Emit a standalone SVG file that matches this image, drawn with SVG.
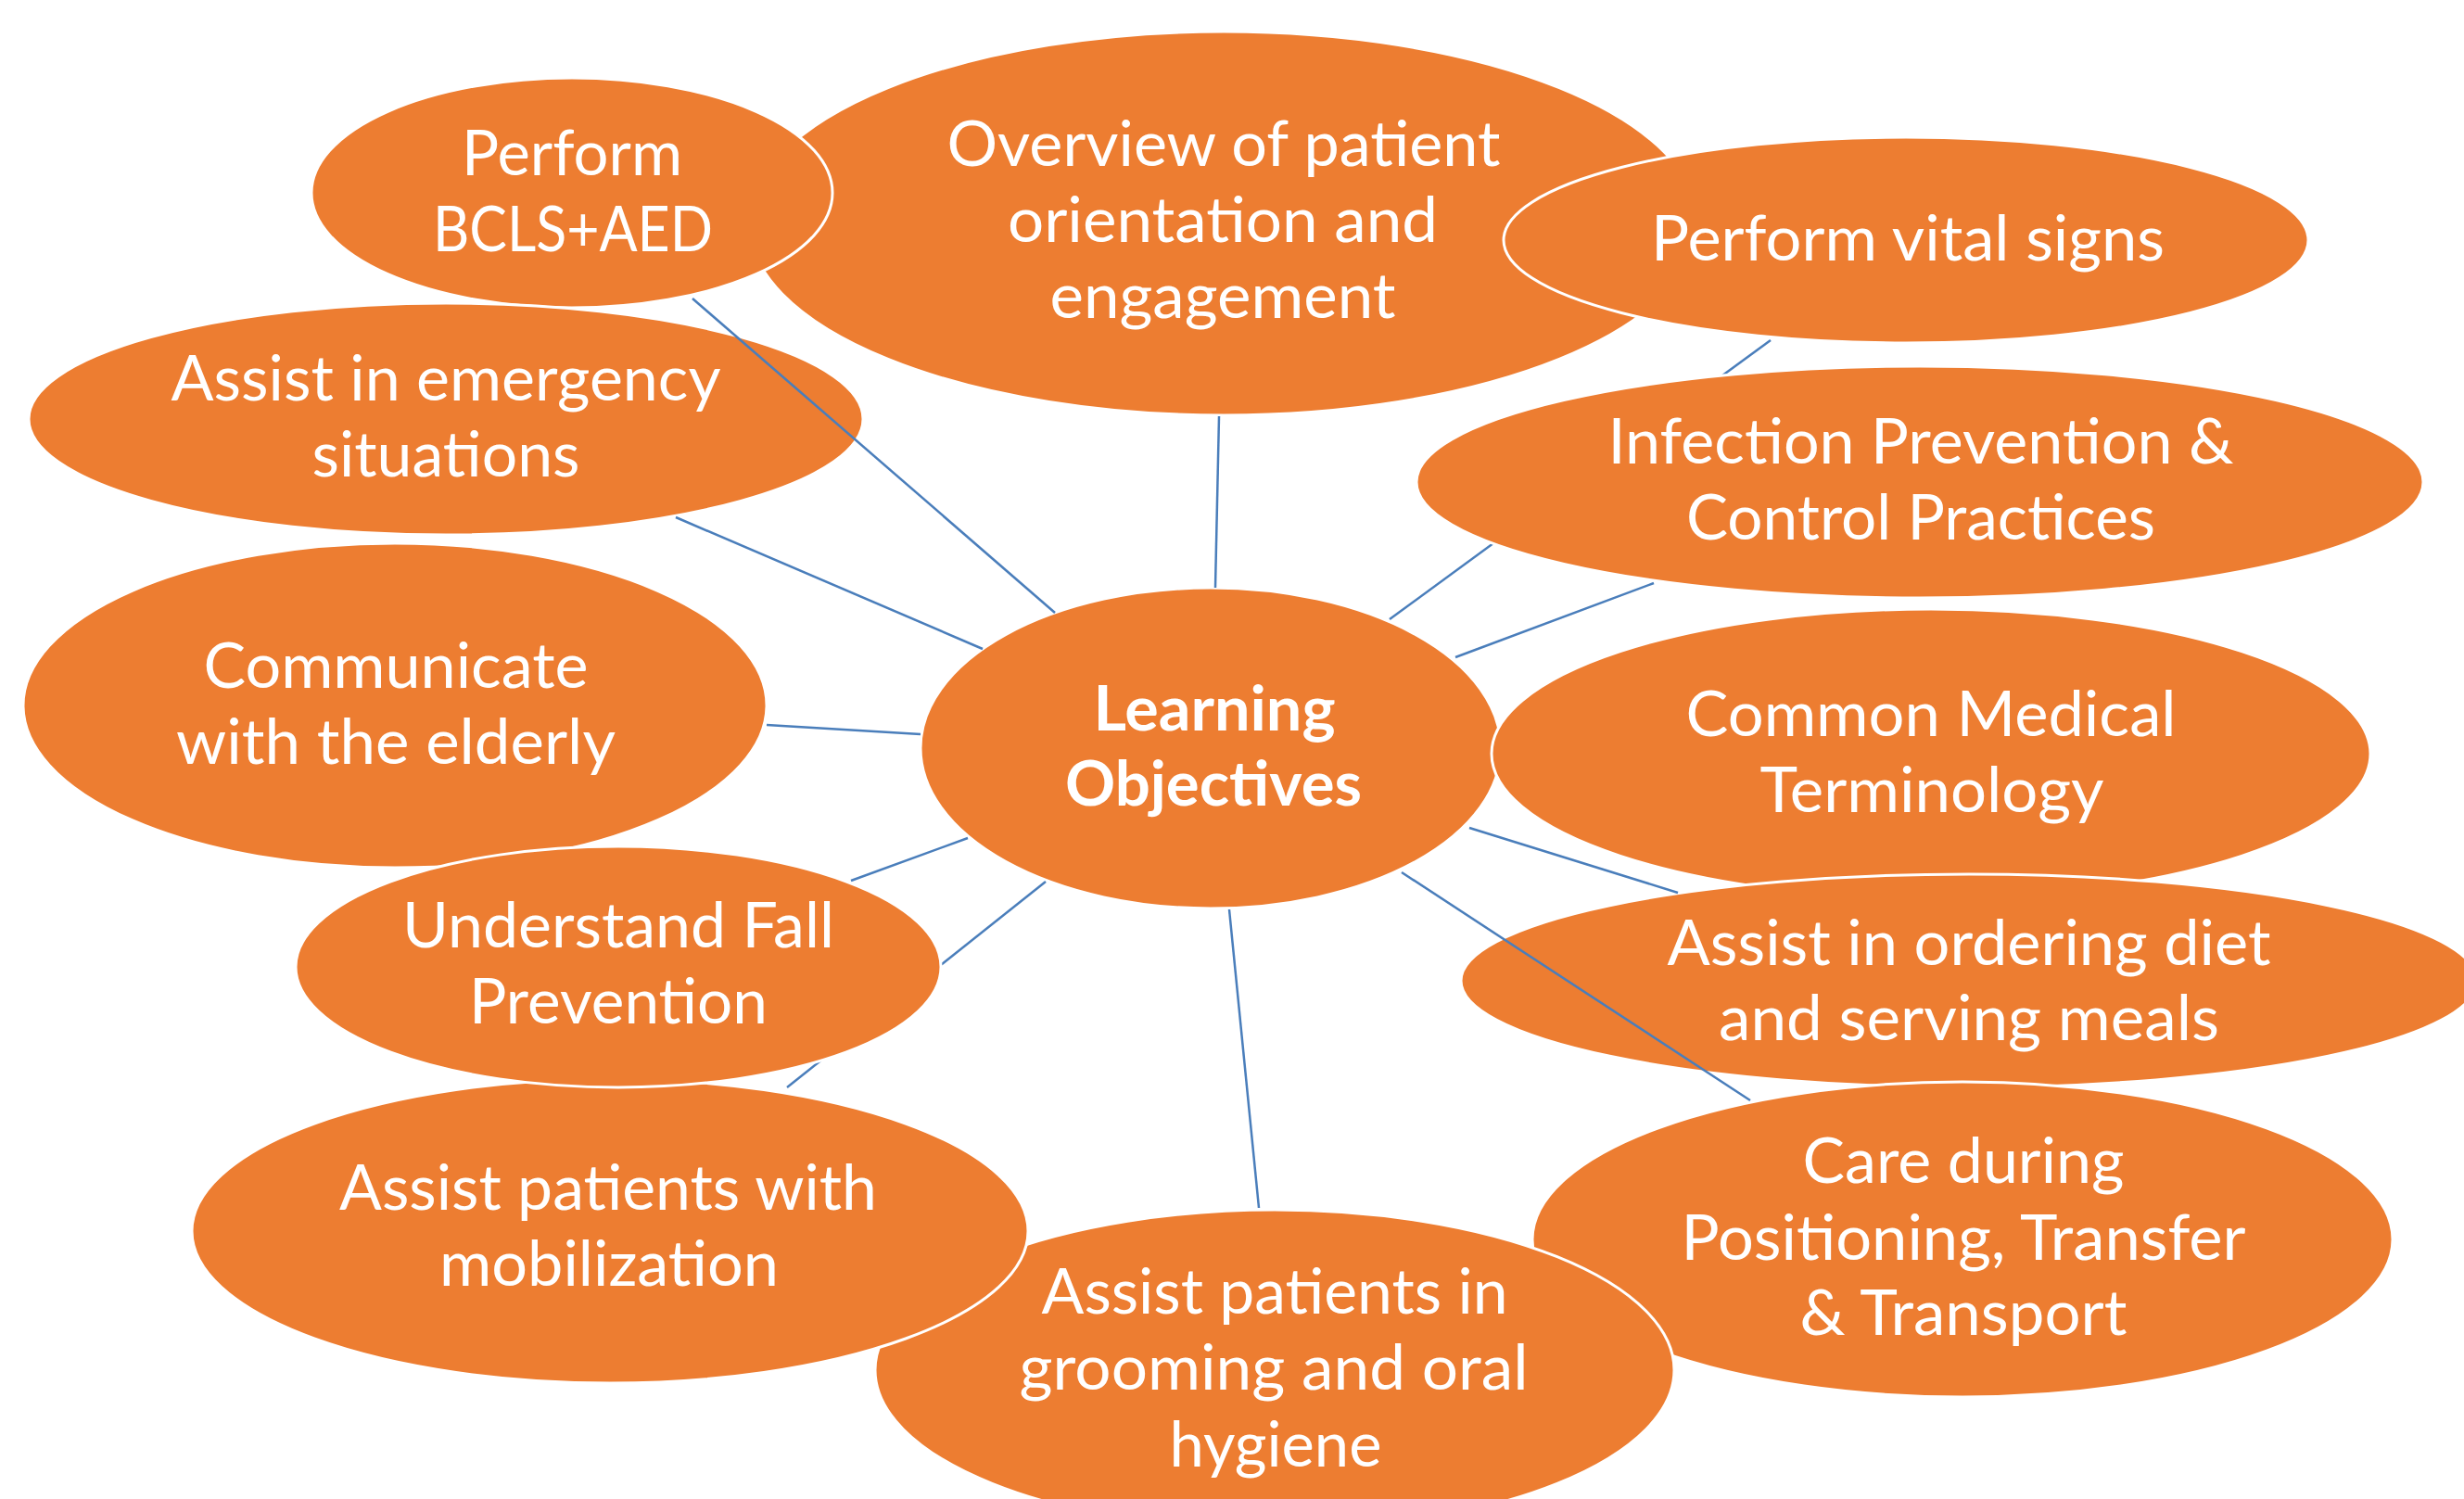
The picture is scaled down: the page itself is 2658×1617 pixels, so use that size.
<svg xmlns="http://www.w3.org/2000/svg" width="2658" height="1617" viewBox="0 0 2658 1617">
<style>
.n{fill:#ED7D31;stroke:#FFFFFF;stroke-width:3}
.t{font-family:Lato,"Open Sans","Liberation Sans",sans-serif;font-size:67px;fill:#FFFFFF;text-anchor:middle}
.b{font-weight:bold}
.c line{stroke:#4A7EBB;stroke-width:2.5;fill:none}
</style>
<rect width="2658" height="1617" fill="#FFFFFF"/>
<g id="node-overview"><ellipse class="n" cx="1320" cy="241" rx="512" ry="207"/>
<text class="t" x="1320" y="179" textLength="597" lengthAdjust="spacingAndGlyphs">Overview of patient</text>
<text class="t" x="1319" y="261" textLength="464" lengthAdjust="spacingAndGlyphs">orientation and</text>
<text class="t" x="1319" y="343" textLength="373" lengthAdjust="spacingAndGlyphs">engagement</text></g>
<g id="node-bcls"><ellipse class="n" cx="617" cy="208" rx="281" ry="124"/>
<text class="t" x="617" y="189" textLength="238" lengthAdjust="spacingAndGlyphs">Perform</text>
<text class="t" x="618" y="271" textLength="302" lengthAdjust="spacingAndGlyphs">BCLS+AED</text></g>
<g id="node-vital"><ellipse class="n" cx="2056" cy="259" rx="434" ry="111"/>
<text class="t" x="2058" y="281" textLength="554" lengthAdjust="spacingAndGlyphs">Perform vital signs</text></g>
<g id="node-emergency"><ellipse class="n" cx="481" cy="452" rx="450" ry="125"/>
<text class="t" x="481" y="432" textLength="593" lengthAdjust="spacingAndGlyphs">Assist in emergency</text>
<text class="t" x="481" y="514" textLength="289" lengthAdjust="spacingAndGlyphs">situations</text></g>
<g id="node-communicate"><ellipse class="n" cx="426" cy="761" rx="401" ry="175"/>
<text class="t" x="427" y="742" textLength="415" lengthAdjust="spacingAndGlyphs">Communicate</text>
<text class="t" x="427" y="824" textLength="474" lengthAdjust="spacingAndGlyphs">with the elderly</text></g>
<g id="node-center"><ellipse class="n" cx="1306" cy="807" rx="313" ry="173"/>
<text class="t b" x="1310" y="788" textLength="261" lengthAdjust="spacingAndGlyphs">Learning</text>
<text class="t b" x="1309" y="869" textLength="320" lengthAdjust="spacingAndGlyphs">Objectives</text></g>
<g id="node-terminology"><ellipse class="n" cx="2083" cy="813" rx="474" ry="156"/>
<text class="t" x="2083" y="794" textLength="529" lengthAdjust="spacingAndGlyphs">Common Medical</text>
<text class="t" x="2084" y="876" textLength="371" lengthAdjust="spacingAndGlyphs">Terminology</text></g>
<g id="node-diet"><ellipse class="n" cx="2124" cy="1058" rx="548" ry="115"/>
<text class="t" x="2124" y="1041" textLength="651" lengthAdjust="spacingAndGlyphs">Assist in ordering diet</text>
<text class="t" x="2124" y="1122" textLength="540" lengthAdjust="spacingAndGlyphs">and serving meals</text></g>
<g id="node-care"><ellipse class="n" cx="2117" cy="1337" rx="464" ry="170"/>
<text class="t" x="2118" y="1276" textLength="347" lengthAdjust="spacingAndGlyphs">Care during</text>
<text class="t" x="2118" y="1359" textLength="609" lengthAdjust="spacingAndGlyphs">Positioning, Transfer</text>
<text class="t" x="2118" y="1440" textLength="353" lengthAdjust="spacingAndGlyphs">&amp; Transport</text></g>
<g id="node-grooming"><ellipse class="n" cx="1375" cy="1478" rx="431" ry="173"/>
<text class="t" x="1375" y="1417" textLength="503" lengthAdjust="spacingAndGlyphs">Assist patients in</text>
<text class="t" x="1374" y="1499" textLength="549" lengthAdjust="spacingAndGlyphs">grooming and oral</text>
<text class="t" x="1376" y="1582" textLength="229" lengthAdjust="spacingAndGlyphs">hygiene</text></g>
<g id="node-mobilization"><ellipse class="n" cx="658" cy="1328" rx="451" ry="164"/>
<text class="t" x="656" y="1305" textLength="580" lengthAdjust="spacingAndGlyphs">Assist patients with</text>
<text class="t" x="657" y="1387" textLength="366" lengthAdjust="spacingAndGlyphs">mobilization</text></g>
<g id="connectors" class="c">
<line x1="747" y1="322" x2="1138" y2="661"/>
<line x1="1315" y1="449" x2="1311" y2="634"/>
<line x1="1910" y1="367" x2="1499" y2="668"/>
<line x1="1784" y1="629" x2="1570" y2="709"/>
<line x1="729" y1="558" x2="1060" y2="700"/>
<line x1="827" y1="782" x2="993" y2="792"/>
<line x1="918" y1="950" x2="1044" y2="904"/>
<line x1="849" y1="1173" x2="1128" y2="951"/>
<line x1="1358" y1="1303" x2="1326" y2="981"/>
<line x1="1888" y1="1187" x2="1512" y2="941"/>
<line x1="1810" y1="963" x2="1585" y2="893"/>
</g>
<g id="node-fall"><ellipse class="n" cx="667" cy="1043" rx="348" ry="130"/>
<text class="t" x="667" y="1022" textLength="466" lengthAdjust="spacingAndGlyphs">Understand Fall</text>
<text class="t" x="667" y="1104" textLength="322" lengthAdjust="spacingAndGlyphs">Prevention</text></g>
<g id="node-infection"><ellipse class="n" cx="2071" cy="520" rx="543" ry="125"/>
<text class="t" x="2072" y="500" textLength="675" lengthAdjust="spacingAndGlyphs">Infection Prevention &amp;</text>
<text class="t" x="2072" y="582" textLength="506" lengthAdjust="spacingAndGlyphs">Control Practices</text></g>
</svg>
